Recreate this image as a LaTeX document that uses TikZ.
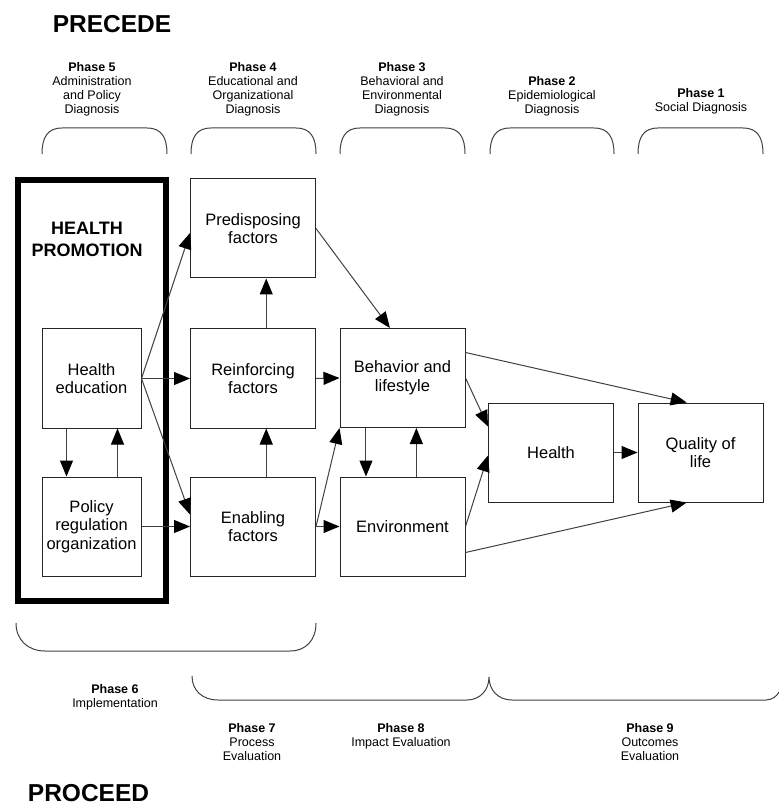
\documentclass[tikz,border=0pt]{standalone}
\usepackage{fontspec}
\setmainfont{Liberation Sans}
\usetikzlibrary{arrows.meta,calc}
\begin{document}
\begin{tikzpicture}[x=0.5pt,y=-0.5pt,
  box/.style={draw=black!85, line width=0.5pt, align=center, inner sep=0pt,
    minimum width=62.5pt, minimum height=49.5pt, font=\fontsize{8.25}{9.35}\selectfont},
  smallbox/.style={box, minimum width=49.5pt},
  arr/.style={draw=black!75, line width=0.5pt, -{Triangle[length=8pt,width=6.5pt,color=black]}},
  brk/.style={draw=black!75, line width=0.5pt},
  phase/.style={anchor=north, inner sep=0pt, align=center, font=\fontsize{6.25}{7}\selectfont},
  title/.style={anchor=north, inner sep=0pt, font=\fontsize{12.25}{14}\selectfont\bfseries}]
\useasboundingbox (0,0) rectangle (779,806);

% titles
\node[title] (precede) at (112,15) {PRECEDE};
\node[title] (proceed) at (88.5,784) {PROCEED};

% top phase labels
\node[phase] (p5) at (92,62.5) {\textbf{Phase 5}\\Administration\\and Policy\\Diagnosis};
\node[phase] (p4) at (253,62.5) {\textbf{Phase 4}\\Educational and\\Organizational\\Diagnosis};
\node[phase] (p3) at (402,62.5) {\textbf{Phase 3}\\Behavioral and\\Environmental\\Diagnosis};
\node[phase] (p2) at (552,76) {\textbf{Phase 2}\\Epidemiological\\Diagnosis};
\node[phase] (p1) at (701,88) {\textbf{Phase 1}\\Social Diagnosis};

% top brackets
\foreach \a/\b in {42/167,191/316,340/465,490/614,638/763}{
  \draw[brk] (\a,154) .. controls (\a,138) and (\a+5,128) .. (\a+20,128) -- (\b-20,128)
     .. controls (\b-5,128) and (\b,138) .. (\b,154);
}

% health promotion frame
\draw[line width=2.75pt] (18,180) rectangle (166,601);
\node[inner sep=0pt, align=center, anchor=north, font=\fontsize{9}{11}\selectfont\bfseries] (hp) at (87,222) {HEALTH\\PROMOTION};

% boxes
\node[smallbox] (he) at (91.5,378.5) {Health\\education};
\node[smallbox] (pol) at (91.5,526.5) {Policy\\regulation\\organization};
\node[box] (pred) at (253,228.5) {Predisposing\\factors};
\node[box] (reinf) at (253,378.5) {Reinforcing\\factors};
\node[box] (enab) at (253,526.5) {Enabling\\factors};
\node[box] (beh) at (402.5,378) {Behavior and\\lifestyle};
\node[box] (env) at (402.5,526.5) {Environment};
\node[box] (health) at (551,452.5) {Health};
\node[box] (qol) at (700.5,452.5) {Quality of\\life};

% connectors
\draw[arr] (he.east) -- ($(pred.north west)!0.545!(pred.south west)$);
\draw[arr] (he.east) -- (reinf.west);
\draw[arr] (he.east) -- ($(enab.north west)!0.38!(enab.south west)$);
\draw[arr] (pol.east) -- (enab.west);
\draw[arr] ($(he.south west)!0.25!(he.south east)$) -- ($(pol.north west)!0.25!(pol.north east)$);
\draw[arr] ($(pol.north west)!0.76!(pol.north east)$) -- ($(he.south west)!0.76!(he.south east)$);
\draw[arr] ($(reinf.north west)!0.605!(reinf.north east)$) -- ($(pred.south west)!0.605!(pred.south east)$);
\draw[arr] ($(enab.north west)!0.605!(enab.north east)$) -- ($(reinf.south west)!0.605!(reinf.south east)$);
\draw[arr] (reinf.east) -- (beh.west);
\draw[arr] (enab.east) -- (env.west);
\draw[arr] (enab.east) -- (beh.south west);
\draw[arr] (pred.east) -- ($(beh.north west)!0.4!(beh.north east)$);
\draw[arr] ($(beh.south west)!0.21!(beh.south east)$) -- ($(env.north west)!0.21!(env.north east)$);
\draw[arr] ($(env.north west)!0.61!(env.north east)$) -- ($(beh.south west)!0.61!(beh.south east)$);
\draw[arr] (beh.east) -- ($(health.north west)!0.24!(health.south west)$);
\draw[arr] (env.east) -- ($(health.north west)!0.53!(health.south west)$);
\draw[arr] (health.east) -- (qol.west);
\draw[arr] ($(beh.north east)!0.245!(beh.south east)$) -- ($(qol.north west)!0.39!(qol.north east)$);
\draw[arr] ($(env.north east)!0.76!(env.south east)$) -- ($(qol.south west)!0.39!(qol.south east)$);

% bottom brackets
\draw[brk] (16,623) .. controls (16,640) and (28,651) .. (45,651) -- (290,651)
   .. controls (306,651) and (316,640) .. (316,623);
\draw[brk] (192,676) .. controls (192,690) and (202,700) .. (218,700) -- (467,700)
   .. controls (480,700) and (489,690) .. (489,677)
   .. controls (489,690) and (498,700) .. (512,700) -- (766,700)
   .. controls (772,700) and (777,696) .. (779,692);

% bottom phase labels
\node[phase] (p6) at (115,684.5) {\textbf{Phase 6}\\Implementation};
\node[phase] (p7) at (252,723.5) {\textbf{Phase 7}\\Process\\Evaluation};
\node[phase] (p8) at (401,723.5) {\textbf{Phase 8}\\Impact Evaluation};
\node[phase] (p9) at (650,723.5) {\textbf{Phase 9}\\Outcomes\\Evaluation};
\end{tikzpicture}
\end{document}
